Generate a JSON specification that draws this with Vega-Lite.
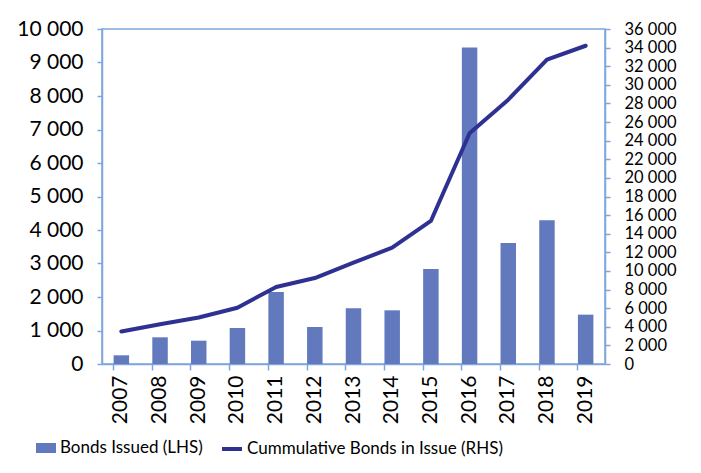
{
  "$schema": "https://vega.github.io/schema/vega-lite/v6.json",
  "width": 503,
  "height": 335,
  "autosize": {"type": "none"},
  "padding": {"left": 102, "top": 29, "right": 96, "bottom": 109},
  "background": "white",
  "data": {
    "values": [
      {"year": "2007", "issued": 260, "cumulative": 3500},
      {"year": "2008", "issued": 797, "cumulative": 4270},
      {"year": "2009", "issued": 696, "cumulative": 5000},
      {"year": "2010", "issued": 1075, "cumulative": 6050},
      {"year": "2011", "issued": 2149, "cumulative": 8270},
      {"year": "2012", "issued": 1104, "cumulative": 9240},
      {"year": "2013", "issued": 1662, "cumulative": 10890},
      {"year": "2014", "issued": 1602, "cumulative": 12500},
      {"year": "2015", "issued": 2836, "cumulative": 15370},
      {"year": "2016", "issued": 9450, "cumulative": 24800},
      {"year": "2017", "issued": 3612, "cumulative": 28400},
      {"year": "2018", "issued": 4289, "cumulative": 32700},
      {"year": "2019", "issued": 1473, "cumulative": 34200}
    ]
  },
  "encoding": {
    "x": {
      "field": "year",
      "type": "ordinal",
      "scale": {"paddingInner": 0.6, "paddingOuter": 0.3},
      "axis": {
        "title": null,
        "labelAngle": -90,
        "labelAlign": "right",
        "labelBaseline": "middle",
        "labelFontSize": 21,
        "labelPadding": 5,
        "tickSize": 6,
        "bandPosition": 0,
        "domainColor": "#7ea6dc",
        "tickColor": "#7ea6dc",
        "domainWidth": 1.5,
        "tickWidth": 1.5
      }
    }
  },
  "layer": [
    {
      "mark": {"type": "bar", "color": "#6279be"},
      "encoding": {
        "y": {
          "field": "issued",
          "type": "quantitative",
          "scale": {"domain": [0, 10000], "nice": false},
          "axis": {
            "title": null,
            "orient": "left",
            "values": [0, 1000, 2000, 3000, 4000, 5000, 6000, 7000, 8000, 9000, 10000],
            "labelExpr": "replace(format(datum.value, ','), ',', ' ')",
            "labelFontSize": 21,
            "labelPadding": 14,
            "tickSize": 5,
            "grid": false,
            "domainColor": "#7ea6dc",
            "tickColor": "#7ea6dc",
            "domainWidth": 1.5,
            "tickWidth": 1.5
          }
        },
        "fill": {
          "datum": "Bonds Issued (LHS)",
          "scale": {"range": ["#6279be"]},
          "legend": {
            "orient": "none",
            "legendX": -67,
            "legendY": 408,
            "title": null,
            "padding": 0,
            "symbolType": "M-1,-0.5H1V0.5H-1Z",
            "symbolSize": 400,
            "symbolOpacity": 1,
            "labelFontSize": 17,
            "labelOffset": 3,
            "labelLimit": 500,
            "labelColor": "black"
          }
        }
      }
    },
    {
      "mark": {"type": "line", "color": "#2e3192", "strokeWidth": 4, "strokeCap": "round", "strokeJoin": "round"},
      "encoding": {
        "y": {
          "field": "cumulative",
          "type": "quantitative",
          "scale": {"domain": [0, 36000], "nice": false},
          "axis": {
            "title": null,
            "orient": "right",
            "values": [0, 2000, 4000, 6000, 8000, 10000, 12000, 14000, 16000, 18000, 20000, 22000, 24000, 26000, 28000, 30000, 32000, 34000, 36000],
            "labelExpr": "replace(format(datum.value, ','), ',', ' ')",
            "labelFontSize": 16.5,
            "labelOverlap": false,
            "labelPadding": 14,
            "tickSize": 5,
            "grid": false,
            "domainColor": "#7ea6dc",
            "tickColor": "#7ea6dc",
            "domainWidth": 1.5,
            "tickWidth": 1.5
          }
        },
        "stroke": {
          "datum": "Cummulative Bonds in Issue (RHS)",
          "scale": {"range": ["#2e3192"]},
          "legend": {
            "orient": "none",
            "legendX": 118,
            "legendY": 408,
            "title": null,
            "padding": 0,
            "symbolType": "stroke",
            "symbolSize": 400,
            "symbolStrokeWidth": 4,
            "labelFontSize": 17,
            "labelOffset": 3,
            "labelLimit": 500,
            "labelColor": "black"
          }
        }
      }
    }
  ],
  "resolve": {"scale": {"y": "independent"}},
  "config": {
    "font": "Lato",
    "axis": {"labelFont": "Lato", "labelColor": "black"},
    "legend": {"labelFont": "Lato"},
    "view": {"stroke": "#7ea6dc", "strokeWidth": 1.5}
  }
}
